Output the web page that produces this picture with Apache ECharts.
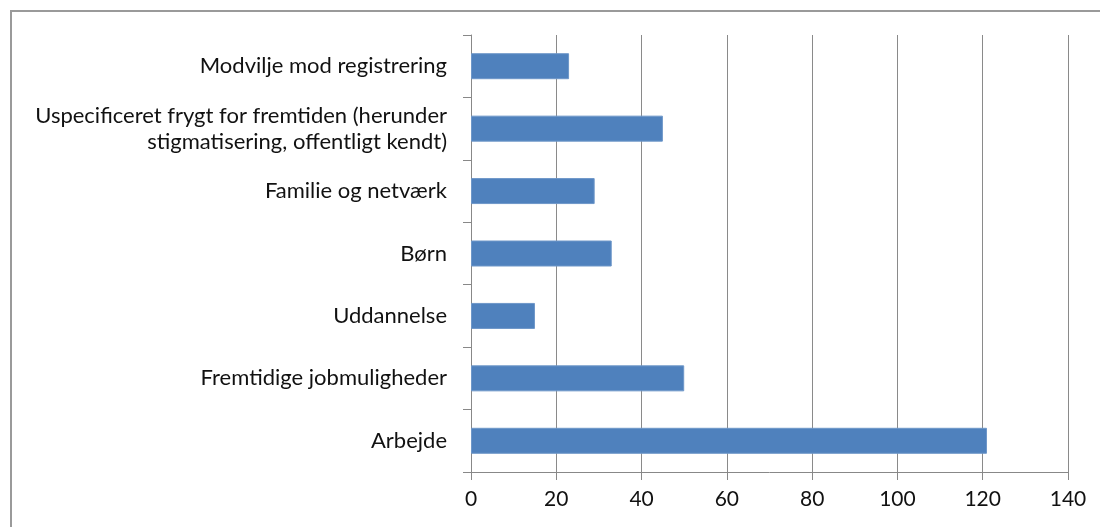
<!DOCTYPE html>
<html>
<head>
<meta charset="utf-8">
<script src="https://cdn.jsdelivr.net/npm/echarts@6/dist/echarts.min.js"></script>
<style>
  html, body { margin: 0; padding: 0; background: #fff; overflow: hidden; }
  #frame { position: absolute; left: 10px; top: 10px; width: 1100px; height: 530px; border: 2px solid #9a9a9a; box-sizing: border-box; }
  #chart { position: absolute; left: 0; top: 0; width: 1100px; height: 527px; }
</style>
</head>
<body>
<div id="frame"></div>
<div id="chart"></div>
<script>
// kategorier nedefra og op (som i Excel)
var categories = [
  'Arbejde',
  'Fremtidige jobmuligheder',
  'Uddannelse',
  'Børn',
  'Familie og netværk',
  'Uspecificeret frygt for fremtiden (herunder\nstigmatisering, offentligt kendt)',
  'Modvilje mod registrering'
]
var values = [121, 50, 15, 33, 29, 45, 23]
var xTicks = [0, 20, 40, 60, 80, 100, 120, 140]

var chart = echarts.init(document.getElementById('chart'))
chart.setOption({
  animation: false,
  grid: { left: 471, right: 32, top: 35, bottom: 55 },
  xAxis: {
    type: 'value',
    min: xTicks[0],
    max: xTicks[xTicks.length - 1],
    interval: 20,
    axisLine: { show: true, lineStyle: { color: '#888', width: 1 } },
    axisTick: { show: true, length: 8, lineStyle: { color: '#888' } },
    splitLine: { show: true, lineStyle: { color: '#8a8a8a', width: 1 } },
    axisLabel: { color: '#111', fontFamily: 'Lato', fontSize: 21, margin: 17 }
  },
  yAxis: {
    type: 'category',
    data: categories,
    axisLine: { show: true, lineStyle: { color: '#888', width: 1 } },
    axisTick: { show: true, length: 8, lineStyle: { color: '#888' } },
    axisLabel: { color: '#111', fontFamily: 'Lato', fontSize: 22, margin: 24, lineHeight: 26, align: 'right' }
  },
  series: [{
    type: 'bar',
    data: values,
    barWidth: 26,
    itemStyle: { color: '#4f81bd', borderColor: '#6e97c9', borderWidth: 1 }
  }]
})
</script>
</body>
</html>
